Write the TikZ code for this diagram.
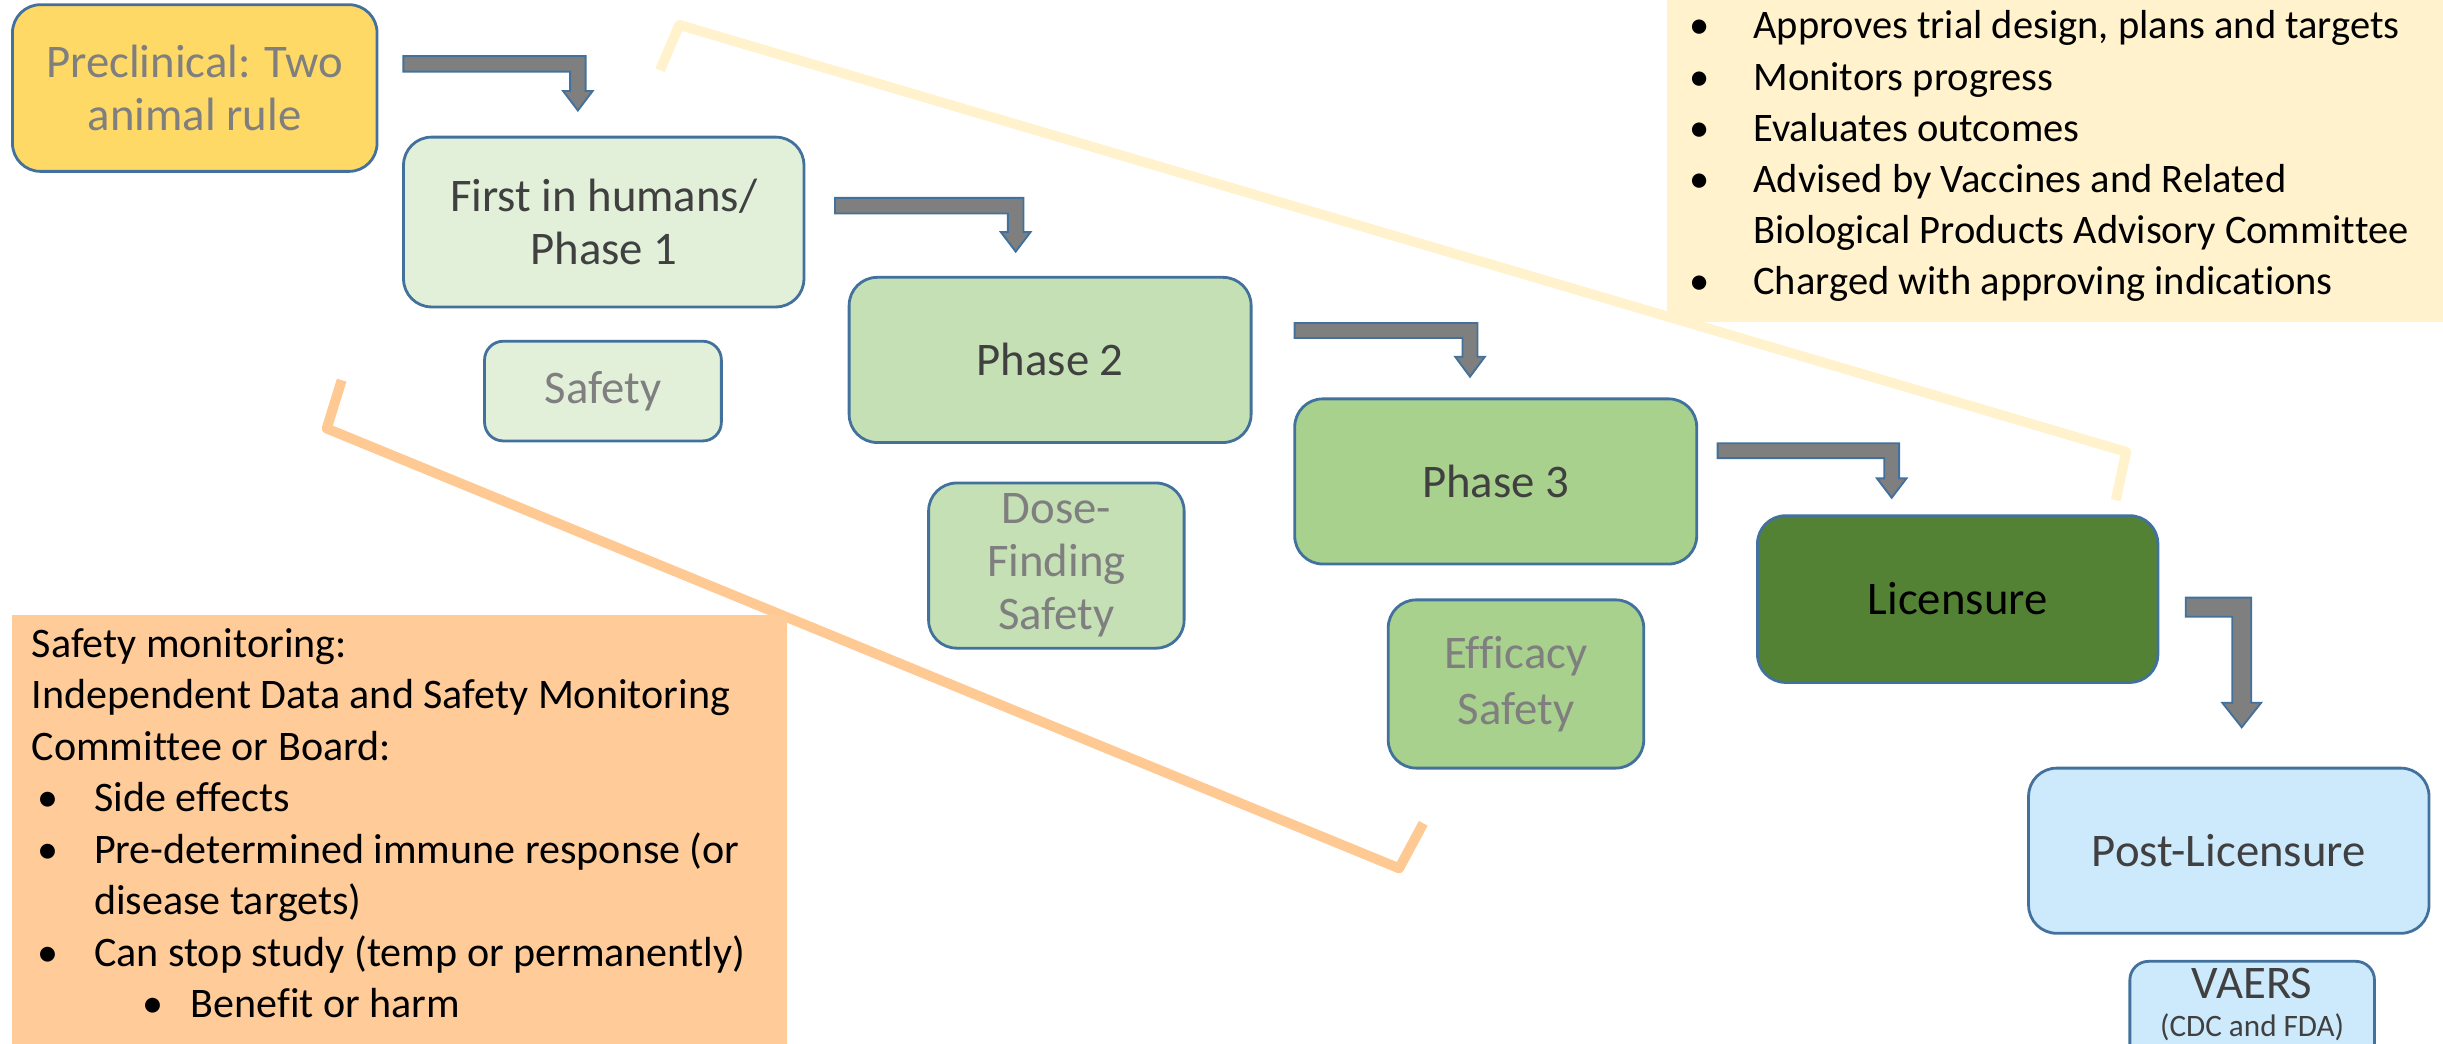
\documentclass[tikz,border=0pt]{standalone}
\usepackage{fontspec}
\setmainfont{Carlito}[Ligatures={NoCommon}]
\usetikzlibrary{calc}
\definecolor{bord}{HTML}{41719C}
\definecolor{preY}{HTML}{FFD966}
\definecolor{g1}{HTML}{E2F0D9}
\definecolor{g2}{HTML}{C5E0B4}
\definecolor{g3}{HTML}{A9D18E}
\definecolor{g4}{HTML}{548235}
\definecolor{lb}{HTML}{CDEAFD}
\definecolor{arrG}{HTML}{7F7F7F}
\definecolor{txG}{HTML}{7F7F7F}
\definecolor{txD}{HTML}{404040}
\definecolor{paleY}{HTML}{FFF2CC}
\definecolor{peach}{HTML}{FFCC99}
\definecolor{peachL}{HTML}{FFC994}
\newcommand\bulA{\llap{\textbullet\hspace{14pt}}}
\newcommand\bulB{\llap{\textbullet\hspace{11.5pt}}}
\newcommand\bulC{\llap{\textbullet\hspace{8.75pt}}}
% bent block arrow: start (top-left of bar), L, t, D, h, H
\newcommand\bentarr[6]{%
  \filldraw[blockarr] (#1) -- ++(#2,0) -- ++(0,#4) -- ++({#5-#3/2},0)
    -- ++({-#5},#6) -- ++({-#5},{-#6}) -- ++({#5-#3/2},0)
    -- ++(0,{#3-#4}) -- ++({#3-#2},0) -- cycle;}
\tikzset{
  box/.style={draw=bord, line width=0.9pt, rounded corners=9pt, align=center,
    inner sep=0pt, font=\fontsize{15}{17}\selectfont, text=txD},
  smallbox/.style={box, rounded corners=6pt},
  blockarr/.style={fill=arrG, draw=bord, line width=0.6pt},
  band/.style={line width=3.2pt, line join=round},
  tr/.style={anchor=base west, inner sep=0pt, font=\fontsize{13}{16}\selectfont, text=black},
  bl/.style={tr, font=\fontsize{13.5}{16}\selectfont},
}
\begin{document}
\begin{tikzpicture}[x=0.5pt, y=-0.5pt]
\useasboundingbox (0,0) rectangle (1568,670);
\clip (0,0) rectangle (1568,670);
% background bands
\draw[band, paleY] (423.6,45) -- (436,16) -- (1364.6,290) -- (1358,321);
\draw[band, peachL] (219.3,244) -- (209.7,275) -- (898,557.3) -- (913.5,528.4);
% text panels
\fill[paleY] (1070,-5) rectangle (1575,206.5);
\fill[peach] (8,395) rectangle (505,680);
% stage boxes
\node[box, fill=preY, text=txG, minimum width=117pt, minimum height=53.5pt] (pre) at (125,56.5) {Preclinical: Two\\animal rule};
\node[box, fill=g1, minimum width=128.5pt, minimum height=54.5pt] (p1) at (387.5,142.5) {First in humans/\\Phase 1};
\node[smallbox, fill=g1, text=txG, minimum width=76pt, minimum height=32pt] (s1) at (387,251) {Safety};
\node[box, fill=g2, minimum width=129pt, minimum height=53pt] (p2) at (674,231) {Phase 2};
\node[box, fill=g2, text=txG, minimum width=82pt, minimum height=53pt] (s2) at (678,363) {Dose-\\Finding\\Safety};
\node[box, fill=g3, minimum width=129pt, minimum height=53pt] (p3) at (960,309) {Phase 3};
\node[box, fill=g3, text=txG, minimum width=82pt, minimum height=54pt, font=\fontsize{15}{18}\selectfont] (s3) at (973,439) {Efficacy\\Safety};
\node[box, fill=g4, text=black, minimum width=128.5pt, minimum height=53.5pt] (lic) at (1256.5,384.5) {Licensure};
\node[box, fill=lb, minimum width=128.5pt, minimum height=53pt] (post) at (1430.5,546) {Post-Licensure};
\node[smallbox, fill=lb, minimum width=78.5pt, minimum height=41.5pt] (vaers) at (1445.5,658.5) {};
\node[inner sep=0pt, text=txD, font=\fontsize{15}{17}\selectfont] (vaersT) at (1445.5,631) {VAERS};
\node[inner sep=0pt, text=txD, font=\fontsize{10}{12}\selectfont] (vaersS) at (1445.5,659) {(CDC and FDA)};
% bent arrows
\coordinate (a1) at ($(pre.east)+(16,-20.5)$);
\coordinate (a2) at ($(p1.east)+(19,-15.5)$);
\coordinate (a3) at ($(p2.east)+(27,-23.7)$);
\coordinate (a4) at ($(p3.east)+(12.5,-24.5)$);
\coordinate (a5) at ($(lic.east)+(17,-0.9)$);
\bentarr{a1}{117}{10}{22.4}{9.5}{12.5}
\bentarr{a2}{121}{10}{22}{9.5}{12.5}
\bentarr{a3}{117.4}{9.6}{21.7}{9.5}{12.8}
\bentarr{a4}{116.5}{9.5}{22.5}{9.5}{12.5}
\bentarr{a5}{42}{12.2}{67.4}{12.5}{15.8}
% top-right text
\node[tr] (tr1) at (1125,25) {\bulA Approves trial design, plans and targets};
\node[tr] (tr2) at (1125,57.8) {\bulA Monitors progress};
\node[tr] (tr3) at (1125,90.6) {\bulA Evaluates outcomes};
\node[tr] (tr4) at (1125,123.4) {\bulA Advised by Vaccines and Related};
\node[tr] (tr5) at (1125,156.2) {Biological Products Advisory Committee};
\node[tr] (tr6) at (1125,189) {\bulA Charged with approving indications};
% bottom-left text
\node[bl] (bl1) at (20,422) {Safety monitoring:};
\node[bl] (bl2) at (20,455) {Independent Data and Safety Monitoring};
\node[bl] (bl3) at (20,488) {Committee or Board:};
\node[bl] (bl4) at (60,521) {\bulB Side effects};
\node[bl] (bl5) at (60,554) {\bulB Pre-determined immune response (or};
\node[bl] (bl6) at (60,587) {disease targets)};
\node[bl] (bl7) at (60,620) {\bulB Can stop study (temp or permanently)};
\node[bl] (bl8) at (122,653) {\bulC Benefit or harm};
\end{tikzpicture}
\end{document}
